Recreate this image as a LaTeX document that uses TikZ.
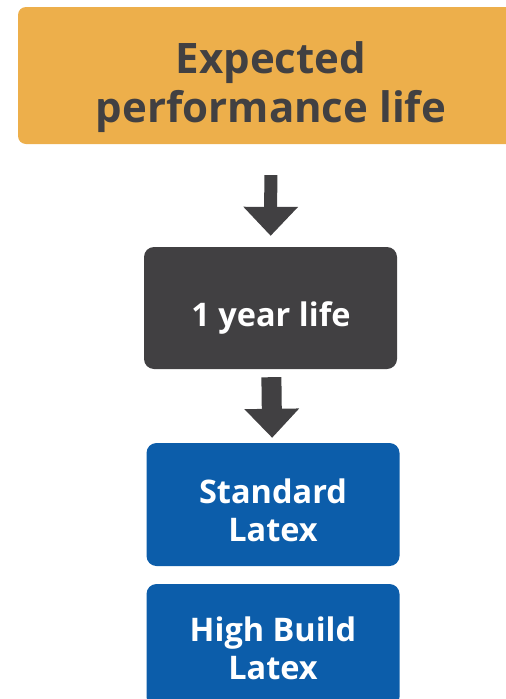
\documentclass[tikz,border=0pt]{standalone}
\usepackage{fontspec}
\setmainfont{Open Sans}
\usetikzlibrary{arrows.meta}
\definecolor{lifeorange}{HTML}{EDAF4B}
\definecolor{lifegray}{HTML}{414042}
\definecolor{lifeblue}{HTML}{0C5DAA}
\begin{document}
\begin{tikzpicture}[x=1pt,y=-1pt,
  box/.style={rounded corners=10pt, minimum width=253pt, minimum height=123pt, inner sep=0pt},
  boxtext/.style={text=white, font=\bfseries\fontsize{32.5}{38}\selectfont, align=center, anchor=base},
  flow/.style={-{Triangle[width=53pt,length=29pt]}, draw=lifegray}]
\useasboundingbox (0,0) rectangle (506,699);

% Boxes
\node[box, fill=lifeorange, minimum width=506pt, minimum height=137pt, rounded corners=8pt] (expect) at (271,75.5) {};
\node[box, fill=lifegray, minimum height=122pt] (year) at (270.5,308) {};
\node[box, fill=lifeblue] (std) at (273,504.5) {};
\node[box, fill=lifeblue] (high) at (273,645.5) {};

% Texts (base = last line)
\node[boxtext, text=lifegray, font=\bfseries\fontsize{42}{49}\selectfont] (expectT) at (271,122) {Expected\\performance life};
\node[boxtext] (yearT) at (271,326) {1 year life};
\node[boxtext] (stdT) at (273,541) {Standard\\Latex};
\node[boxtext] (highT) at (273,679) {High Build\\Latex};

% Arrows
\draw[flow, line width=13pt, shorten <=31pt, shorten >=11pt] (expect) -- (year);
\draw[flow, line width=20pt, shorten <=8pt, shorten >=5pt] (year) -- (std);
\end{tikzpicture}
\end{document}
